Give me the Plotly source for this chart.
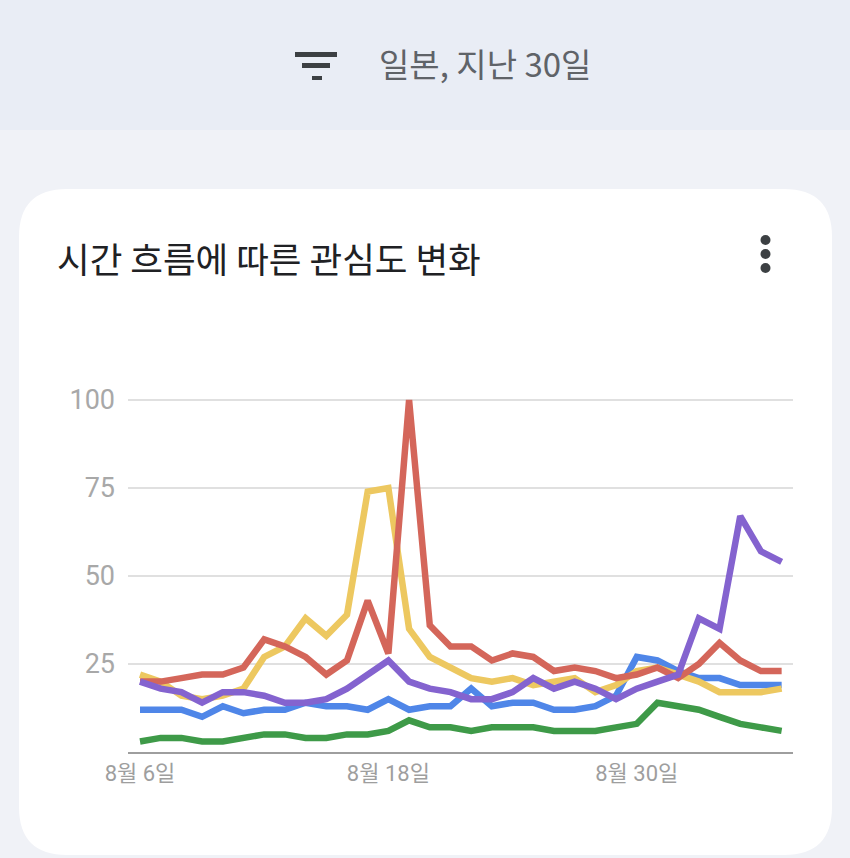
import plotly.graph_objects as go
import pandas as pd

W, H = 850, 858

dates = pd.date_range("2023-08-06", periods=32, freq="D").strftime("%Y-%m-%d").tolist()

blue = [12, 12, 12, 10, 13, 11, 12, 12, 14, 13, 13, 12, 15, 12, 13, 13, 18, 13, 14, 14,
        12, 12, 13, 16, 27, 26, 23, 21, 21, 19, 19, 19]
yellow = [22, 20, 16, 15, 16, 18, 27, 30, 38, 33, 39, 74, 75, 35, 27, 24, 21, 20, 21, 19,
          20, 21, 17, 19, 23, 24, 22, 20, 17, 17, 17, 18]
red = [20, 20, 21, 22, 22, 24, 32, 30, 27, 22, 26, 43, 28, 100, 36, 30, 30, 26, 28, 27,
       23, 24, 23, 21, 22, 24, 21, 25, 31, 26, 23, 23]
green = [3, 4, 4, 3, 3, 4, 5, 5, 4, 4, 5, 5, 6, 9, 7, 7, 6, 7, 7, 7,
         6, 6, 6, 7, 8, 14, 13, 12, 10, 8, 7, 6]
purple = [20, 18, 17, 14, 17, 17, 16, 14, 14, 15, 18, 22, 26, 20, 18, 17, 15, 15, 17, 21,
          18, 20, 18, 15, 18, 20, 22, 38, 35, 67, 57, 54]

series_names = ["검색어 1", "검색어 2", "검색어 3", "검색어 4", "검색어 5"]
series_values = [blue, yellow, red, green, purple]
series_colors = ["#4F86E8", "#EDC860", "#D4665A", "#3E9A48", "#8463CF"]

y_ticks = [25, 50, 75, 100]
x_tick_dates = ["2023-08-06", "2023-08-18", "2023-08-30"]
x_tick_labels = ["8월 6일", "8월 18일", "8월 30일"]

header_text = "일본, 지난 30일"
card_title = "시간 흐름에 따른 관심도 변화"


def px(x):
    return x / W


def py(y):
    return 1 - y / H


fig = go.Figure()
for name, vals, col in zip(series_names, series_values, series_colors):
    fig.add_trace(go.Scatter(x=dates, y=vals, mode="lines", name=name,
                             line=dict(color=col, width=6.5), hoverinfo="skip"))

shapes = []
# page backgrounds
shapes.append(dict(type="rect", xref="paper", yref="paper", x0=0, x1=1, y0=py(130), y1=1,
                   fillcolor="#E9EDF5", line=dict(width=0), layer="below"))
# rounded white card
cx0, cx1, cy0, cy1, r = 19, 832, 189, 855, 48
path = (f"M {px(cx0 + r)},{py(cy0)} L {px(cx1 - r)},{py(cy0)} "
        f"Q {px(cx1)},{py(cy0)} {px(cx1)},{py(cy0 + r)} L {px(cx1)},{py(cy1 - r)} "
        f"Q {px(cx1)},{py(cy1)} {px(cx1 - r)},{py(cy1)} L {px(cx0 + r)},{py(cy1)} "
        f"Q {px(cx0)},{py(cy1)} {px(cx0)},{py(cy1 - r)} L {px(cx0)},{py(cy0 + r)} "
        f"Q {px(cx0)},{py(cy0)} {px(cx0 + r)},{py(cy0)} Z")
shapes.append(dict(type="path", xref="paper", yref="paper", path=path,
                   fillcolor="#FFFFFF", line=dict(width=0), layer="below"))
# filter icon bars
for (x0, x1, y0, y1) in [(295, 337, 52, 57), (302, 330, 63, 68), (312, 322, 76, 80)]:
    shapes.append(dict(type="rect", xref="paper", yref="paper",
                       x0=px(x0), x1=px(x1), y0=py(y1), y1=py(y0),
                       fillcolor="#3C4043", line=dict(width=0), layer="below"))
# three dots menu
for cy in [240, 254, 268]:
    shapes.append(dict(type="circle", xref="paper", yref="paper",
                       x0=px(760.5), x1=px(770.5), y0=py(cy + 5), y1=py(cy - 5),
                       fillcolor="#3C4043", line=dict(width=0), layer="below"))

annotations = [
    dict(text=header_text, xref="paper", yref="paper", x=px(377), y=py(63),
         xanchor="left", yanchor="middle", showarrow=False,
         font=dict(family="Noto Sans CJK KR, Roboto", size=33, color="#5F6368")),
    dict(text=card_title, xref="paper", yref="paper", x=px(55), y=py(257),
         xanchor="left", yanchor="middle", showarrow=False,
         font=dict(family="Noto Sans CJK KR", size=35.5, color="#202124")),
]

y_top = 104
fig.update_layout(
    width=W, height=H,
    margin=dict(l=0, r=0, t=0, b=0, pad=0),
    paper_bgcolor="#F0F2F7",
    plot_bgcolor="rgba(0,0,0,0)",
    showlegend=False,
    shapes=shapes,
    annotations=annotations,
    xaxis=dict(
        domain=[px(128), px(793)],
        automargin=False,
        type="date",
        range=["2023-08-05 10:05", "2023-09-06 13:10"],
        tickvals=x_tick_dates, ticktext=x_tick_labels,
        showgrid=False, zeroline=False,
        showline=True, linecolor="#9E9E9E", linewidth=2,
        ticks="", ticklabelstandoff=1,
        tickfont=dict(family="Roboto, Noto Sans CJK KR", size=22, color="#9E9E9E"),
    ),
    yaxis=dict(
        domain=[py(752), py(752 - y_top * 3.52)],
        automargin=False,
        range=[0, y_top],
        tickvals=y_ticks,
        showgrid=True, gridcolor="#E0E0E0", gridwidth=2,
        zeroline=False, showline=False,
        ticks="", ticklabelstandoff=12,
        tickfont=dict(family="Roboto", size=27, color="#A8A8A8"),
    ),
)

fig.write_html("out.html")
